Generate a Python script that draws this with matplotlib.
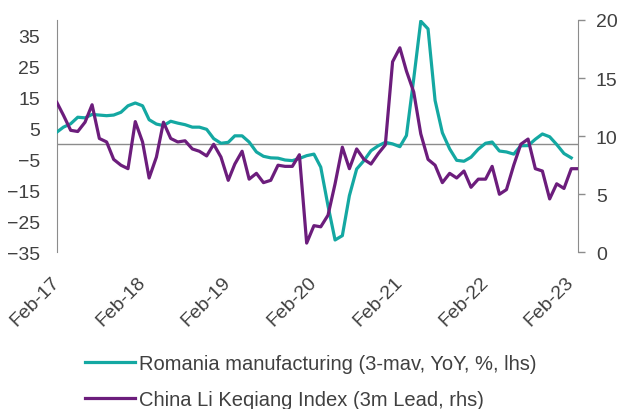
import numpy as np
import pandas as pd
import matplotlib
matplotlib.use('Agg')
import matplotlib.pyplot as plt

plt.rcParams['font.family'] = ['Liberation Sans', 'DejaVu Sans']

# monthly, Feb-17 onwards
romania = [3.8, 5.4, 6.5, 8.6, 8.4, 9.5, 9.3, 9.1, 9.3, 10.2,
           12.3, 13.2, 12.3, 7.8, 6.4, 5.9, 7.3, 6.7, 6.2, 5.4,
           5.4, 4.7, 1.7, 0.2, 0.5, 2.6, 2.6, 0.6, -2.6, -4.0,
           -4.5, -4.6, -5.2, -5.4, -4.7, -3.8, -3.3, -7.5, -20.0, -31.0,
           -29.6, -16.7, -8.1, -5.4, -2.2, -0.6, 0.5, 0.0, -0.9, 2.7,
           21.0, 39.6, 37.1, 14.0, 3.6, -1.6, -5.3, -5.6, -4.3, -1.7,
           0.2, 0.6, -2.3, -2.6, -3.3, -0.6, -0.55, 1.5, 3.2, 2.3,
           -0.2, -3.1, -4.5]

china = [12.9, 11.8, 10.5, 10.4, 11.2, 12.7, 9.8, 9.5, 8.0, 7.5,
         7.2, 11.25, 9.5, 6.4, 8.2, 11.2, 9.8, 9.5, 9.6, 8.9,
         8.7, 8.3, 9.3, 8.2, 6.2, 7.6, 8.7, 6.3, 6.8, 6.0,
         6.2, 7.5, 7.4, 7.4, 8.4, 0.8, 2.3, 2.2, 3.2, 5.9,
         9.05, 7.2, 8.9, 8.0, 7.6, 8.5, 9.25, 16.4, 17.6, 15.6,
         13.8, 10.2, 8.0, 7.5, 6.0, 6.8, 6.4, 7.0, 5.6, 6.3,
         6.3, 7.4, 5.0, 5.4, 7.5, 9.3, 9.75, 7.2, 7.0, 4.6,
         5.9, 5.5, 7.2, 7.2]

dates_ro = pd.date_range('2017-02-01', periods=len(romania), freq='MS')
dates_cn = pd.date_range('2017-02-01', periods=len(china), freq='MS')

teal = '#14A8A2'
purple = '#6C1D7C'
grey = '#8C8C8C'
txt = '#404040'

fig = plt.figure(figsize=(6.18, 4.10), dpi=100)
ax = fig.add_axes([0.092, 0.382, 0.843, 0.567])
ax2 = ax.twinx()

ax.axhline(0, color=grey, lw=1.0, zorder=1)
l1, = ax.plot(dates_ro, romania, color=teal, lw=2.3, zorder=3,
              label='Romania manufacturing (3-mav, YoY, %, lhs)')
l2, = ax2.plot(dates_cn, china, color=purple, lw=2.3, zorder=3,
               label='China Li Keqiang Index (3m Lead, rhs)')

ax.set_ylim(-35, 40)
ax.set_yticks(np.arange(-35, 36, 10))
ax2.set_ylim(0, 20)
ax2.set_yticks([0, 5, 10, 15, 20])
ax.set_xlim(dates_cn[0], dates_cn[-1])

xt = pd.date_range('2017-02-01', '2023-02-01', freq='12MS')
ax.set_xticks(xt)
ax.set_xticklabels([d.strftime('%b-%y') for d in xt], rotation=45,
                   ha='right', va='center', rotation_mode='anchor')

for a in (ax, ax2):
    for s in ('top', 'bottom'):
        a.spines[s].set_visible(False)
    a.spines['left'].set_color(grey)
    a.spines['right'].set_color(grey)
ax.spines['right'].set_visible(False)
ax2.spines['left'].set_visible(False)

ax.tick_params(axis='y', length=0, pad=12, labelsize=14, labelcolor=txt)
ax.tick_params(axis='x', length=0, pad=19, labelsize=14, labelcolor=txt)
ax2.tick_params(axis='y', length=5, width=1, color=grey, pad=8,
                labelsize=14, labelcolor=txt)

leg = fig.legend(handles=[l1, l2], loc='upper left',
                 bbox_to_anchor=(0.124, 0.154), frameon=False,
                 fontsize=14.5, handlelength=2.5, handletextpad=0.2,
                 labelspacing=0.85, borderaxespad=0)
for t in leg.get_texts():
    t.set_color(txt)

fig.savefig('out.png', dpi=100)
